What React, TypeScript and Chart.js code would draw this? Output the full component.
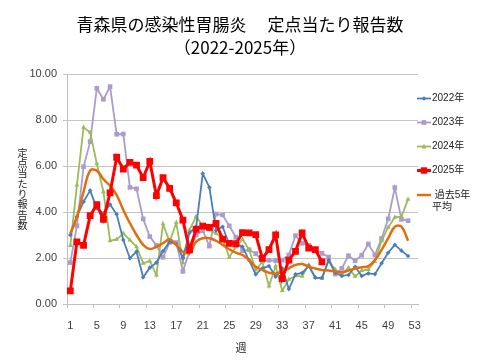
import React, { useEffect, useRef } from 'react';
import { Chart, registerables } from 'chart.js';

Chart.register(...registerables);

const weeks = ['1','2','3','4','5','6','7','8','9','10','11','12','13','14','15','16','17','18','19','20','21','22','23','24','25','26','27','28','29','30','31','32','33','34','35','36','37','38','39','40','41','42','43','44','45','46','47','48','49','50','51','52','53'];

const y2022 = [3.0,3.8,4.45,4.93,4.16,3.94,4.33,3.9,2.78,1.99,2.28,1.16,1.58,1.8,2.3,2.7,2.6,2.0,3.1,3.35,5.67,5.07,3.2,3.36,2.6,2.6,2.49,1.9,1.29,1.55,1.65,1.19,1.55,0.65,1.29,1.35,1.65,1.14,1.14,1.91,1.36,1.22,1.26,1.62,1.22,1.33,1.3,1.77,2.23,2.57,2.32,2.09];
const y2023 = [1.8,3.4,5.97,7.06,9.38,8.9,9.45,7.38,7.39,5.07,5.01,3.7,2.93,2.55,2.03,2.68,2.67,1.42,2.3,3.0,3.19,2.52,3.91,3.87,3.4,2.9,2.32,2.36,2.19,1.87,1.9,1.88,1.91,2.13,2.97,2.64,2.55,2.35,2.2,2.04,1.3,1.55,2.1,1.88,2.12,2.61,2.13,2.85,3.7,5.06,3.68,3.62];
const y2024 = [2.54,5.17,7.68,7.46,6.1,4.88,2.75,2.81,3.07,2.78,2.49,1.77,1.87,1.26,3.48,2.7,3.54,1.8,3.22,3.8,3.39,3.22,3.07,2.84,2.03,2.49,2.81,2.36,1.48,1.84,0.78,1.65,0.58,1.07,1.22,1.2,1.7,1.16,1.1,1.88,1.5,1.3,1.57,1.2,1.45,1.5,1.84,2.75,3.33,3.77,3.8,4.55];
const y2025 = [0.57,2.7,2.55,3.84,4.32,3.68,4.83,6.38,5.87,6.16,6.04,5.49,6.2,4.71,5.49,5.03,4.4,3.65,2.35,3.25,3.39,3.33,3.5,2.82,2.64,2.62,3.1,3.09,3.02,1.98,2.36,3.01,1.1,1.91,2.29,3.09,2.43,2.36,1.83];
const yAvg = [3.07,3.8,4.88,5.8,5.8,5.43,5.14,4.74,4.09,3.51,3.0,2.57,2.39,2.49,2.64,2.81,2.57,2.28,2.23,2.71,2.86,2.86,2.75,2.57,2.38,2.23,2.13,1.91,1.62,1.48,1.36,1.33,1.41,1.55,1.7,1.74,1.62,1.54,1.48,1.46,1.41,1.38,1.45,1.54,1.6,1.65,1.91,2.35,2.86,3.36,3.36,2.75];

const seriesNames = ['2022年', '2023年', '2024年', '2025年', '過去5年平均'];
const titleLine1 = '青森県の感染性胃腸炎　 定点当たり報告数';
const titleLine2 = '（2022-2025年）';
const yTitle = '定点当たり報告数';
const xTitle = '週';

const C_BLUE = '#4a7ebb';
const C_PURPLE = '#ab9ccc';
const C_GREEN = '#9bbb59';
const C_RED = '#ff0000';
const C_ORANGE = '#e46c0a';

const FONT = '"Liberation Sans", "Noto Sans CJK JP", sans-serif';
const JFONT = '"Noto Sans CJK JP", sans-serif';

export default function App() {
  const ref = useRef<HTMLCanvasElement>(null);

  useEffect(() => {
    if (!ref.current) return;

    const drawMarker = (ctx: CanvasRenderingContext2D, kind: string, x: number, y: number, r: number, color: string) => {
      ctx.fillStyle = color;
      ctx.beginPath();
      if (kind === 'rect') {
        ctx.rect(x - r, y - r, 2 * r, 2 * r);
      } else if (kind === 'rectRot') {
        ctx.moveTo(x, y - r);
        ctx.lineTo(x + r, y);
        ctx.lineTo(x, y + r);
        ctx.lineTo(x - r, y);
        ctx.closePath();
      } else if (kind === 'triangle') {
        ctx.moveTo(x, y - r);
        ctx.lineTo(x + r, y + r * 0.8);
        ctx.lineTo(x - r, y + r * 0.8);
        ctx.closePath();
      }
      ctx.fill();
    };

    const textPlugin = {
      id: 'texts',
      afterDraw(chart: any) {
        const ctx: CanvasRenderingContext2D = chart.ctx;
        ctx.save();
        ctx.fillStyle = '#000';
        ctx.textAlign = 'center';
        ctx.textBaseline = 'middle';
        ctx.font = '17px ' + JFONT;
        ctx.fillText(titleLine1, 240, 25);
        ctx.fillText(titleLine2, 240, 48);

        ctx.font = '10px ' + JFONT;
        ctx.fillStyle = '#222';
        Array.from(yTitle).forEach((c, i) => {
          ctx.fillText(c, 22.5, 153 + i * 10.3);
        });

        ctx.font = '11px ' + JFONT;
        ctx.fillText(xTitle, 241, 348);

        // legend
        const items = [
          { name: seriesNames[0], color: C_BLUE, w: 1.8, m: 'rectRot', r: 2.3, y: 98.5 },
          { name: seriesNames[1], color: C_PURPLE, w: 1.8, m: 'rect', r: 2.4, y: 122.5 },
          { name: seriesNames[2], color: C_GREEN, w: 1.8, m: 'triangle', r: 2.4, y: 146.5 },
          { name: seriesNames[3], color: C_RED, w: 3, m: 'rect', r: 3.2, y: 170.5 },
        ];
        ctx.textAlign = 'left';
        ctx.font = '10px ' + FONT;
        items.forEach((it) => {
          ctx.strokeStyle = it.color;
          ctx.lineWidth = it.w;
          ctx.beginPath();
          ctx.moveTo(417, it.y);
          ctx.lineTo(431, it.y);
          ctx.stroke();
          drawMarker(ctx, it.m, 424, it.y, it.r, it.color);
          ctx.fillStyle = '#222';
          ctx.fillText(it.name, 432, it.y);
        });
        ctx.strokeStyle = C_ORANGE;
        ctx.lineWidth = 2.5;
        ctx.beginPath();
        ctx.moveTo(417, 195);
        ctx.lineTo(431, 195);
        ctx.stroke();
        ctx.fillStyle = '#222';
        ctx.fillText(' ' + seriesNames[4].slice(0, 4), 432, 195);
        ctx.fillText(seriesNames[4].slice(4), 432, 207);
        ctx.restore();
      },
    };

    const chart = new Chart(ref.current, {
      type: 'line',
      data: {
        labels: weeks,
        datasets: [
          { label: seriesNames[3], data: y2025, borderColor: C_RED, backgroundColor: C_RED, borderWidth: 3, pointStyle: 'rect', pointRadius: 4.8, pointBorderWidth: 0, tension: 0, order: 0 },
          { label: seriesNames[4], data: yAvg, borderColor: C_ORANGE, backgroundColor: C_ORANGE, borderWidth: 2.5, pointRadius: 0, tension: 0.4, order: 1 },
          { label: seriesNames[0], data: y2022, borderColor: C_BLUE, backgroundColor: C_BLUE, borderWidth: 1.8, pointStyle: 'rectRot', pointRadius: 2.3, pointBorderWidth: 0, tension: 0, order: 2 },
          { label: seriesNames[2], data: y2024, borderColor: C_GREEN, backgroundColor: C_GREEN, borderWidth: 1.8, pointStyle: 'triangle', pointRadius: 2.8, pointBorderWidth: 0, tension: 0, order: 3 },
          { label: seriesNames[1], data: y2023, borderColor: C_PURPLE, backgroundColor: C_PURPLE, borderWidth: 1.8, pointStyle: 'rect', pointRadius: 3.3, pointBorderWidth: 0, tension: 0, order: 4 },
        ],
      },
      options: {
        responsive: false,
        animation: false,
        events: [],
        layout: { padding: { left: 0, right: 62, top: 74, bottom: 0 } },
        plugins: { legend: { display: false }, title: { display: false }, tooltip: { enabled: false } },
        scales: {
          x: {
            type: 'category',
            offset: true,
            afterFit: (s: any) => { s.height = 56; },
            grid: {
              offset: true,
              drawOnChartArea: false,
              drawTicks: true,
              tickLength: 4,
              color: (ctx: any) => (ctx.index % 4 === 0 ? '#bfbfbf' : 'rgba(0,0,0,0)'),
            },
            border: { color: '#bfbfbf', width: 1 },
            ticks: {
              autoSkip: false,
              maxRotation: 0,
              padding: 11,
              color: '#404040',
              font: { family: FONT, size: 11 },
              callback: (_v: any, i: number) => (i % 4 === 0 ? weeks[i] : ''),
            },
          },
          y: {
            min: 0,
            max: 10,
            afterFit: (s: any) => { s.width = 67; },
            grid: { color: '#c4c4c4', tickLength: 4, drawTicks: true },
            border: { color: '#bfbfbf', width: 1 },
            ticks: {
              stepSize: 2,
              padding: 6,
              color: '#404040',
              font: { family: FONT, size: 11 },
              callback: (v: any) => Number(v).toFixed(2),
            },
          },
        },
      },
      plugins: [textPlugin],
    } as any);

    return () => chart.destroy();
  }, []);

  return (
    <div style={{ position: 'fixed', left: 0, top: 0, width: 480, height: 360, background: '#fff' }}>
      <canvas ref={ref} width={480} height={360} style={{ display: 'block' }} />
    </div>
  );
}
